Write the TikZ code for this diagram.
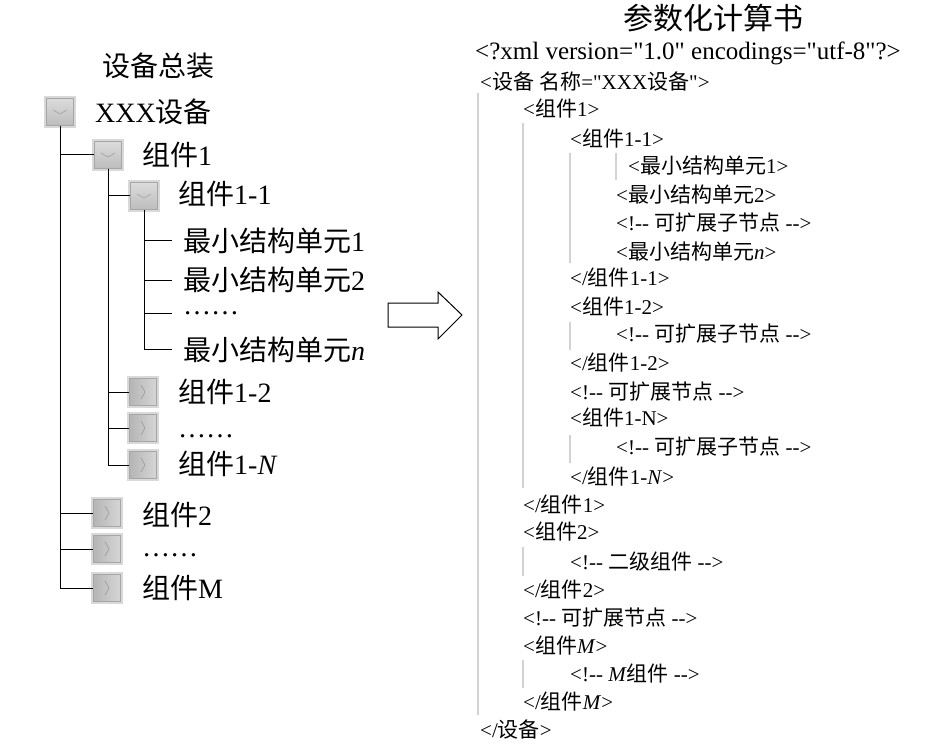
\documentclass[tikz,border=0pt]{standalone}
\usepackage{fontspec}
\setmainfont{Liberation Serif}
\newfontfamily\cjkfont{Noto Sans CJK SC}
\newcommand\zhtext[1]{{\cjkfont #1}}
\newcommand\dhy{-\kern0pt-}
\newcommand\qd{\textquotedbl}
\begin{document}
\begin{tikzpicture}[x=1pt,y=-1pt,
  tbox/.style={minimum size=27pt, inner sep=0pt, draw=gray!70, line width=0.8pt,
    preaction={draw=gray!30, line width=4.5pt}},
  openbox/.style={tbox, top color=gray!28, bottom color=gray!52,
    path picture={\draw[gray!70, line width=0.7pt, shift={(path picture bounding box.center)}] (-7,-2) -- (0,2) -- (7,-2);}},
  shutbox/.style={tbox, left color=gray!58, right color=gray!32,
    path picture={\draw[gray!75, line width=0.7pt, shift={(path picture bounding box.center)}] (-2,-7) -- (2,0) -- (-2,7);}},
  ttext/.style={anchor=west, inner sep=0pt, font=\fontsize{28}{32}\selectfont, text height=22pt, text depth=1.5pt},
  ttitle/.style={anchor=center, inner sep=0pt, font=\fontsize{28}{32}\selectfont, text height=22pt, text depth=1.5pt},
  xml/.style={anchor=west, inner sep=0pt, font=\fontsize{21}{24}\selectfont, text height=16.5pt, text depth=1pt},
  xmlhead/.style={anchor=west, inner sep=0pt, font=\fontsize{25}{28}\selectfont, text height=18pt, text depth=5pt},
  treeline/.style={line width=1pt, black},
  guide/.style={line width=1.5pt, gray!35},
  bigarrow/.style={line width=1pt, black, fill=white}
]
\useasboundingbox (0,0) rectangle (945,746);

% ---------- left tree ----------
\node[ttitle] (ltitle) at (158,66) {\zhtext{设备总装}};

\node[openbox] (b0) at (60,112) {};
\node[ttext] (t0) at (95,112) {XXX\zhtext{设备}};

\node[openbox] (b1) at (108,155) {};
\node[ttext] (t1) at (142,155) {\zhtext{组件}1};

\node[openbox] (b2) at (144,196) {};
\node[ttext] (t2) at (178,194) {\zhtext{组件}1-1};

\node[ttext] (l1) at (183,241) {\zhtext{最小结构单元}1};
\node[ttext] (l2) at (183,280) {\zhtext{最小结构单元}2};
\node[ttext] (l3) at (183,304) {……};
\node[ttext] (l4) at (183,350) {\zhtext{最小结构单元}\textit{n}};
\coordinate (d1) at (172,241);
\coordinate (d2) at (172,280);
\coordinate (d3) at (172,313);
\coordinate (d4) at (172,349);

\node[shutbox] (b4) at (143,392) {};
\node[ttext] (t4) at (178,392) {\zhtext{组件}1-2};
\node[shutbox] (b5) at (143,428) {};
\node[ttext] (t5) at (178,427) {……};
\node[shutbox] (b6) at (143,465) {};
\node[ttext] (t6) at (178,464) {\zhtext{组件}1-\textit{N}};

\node[shutbox] (b7) at (107,513) {};
\node[ttext] (t7) at (142,515) {\zhtext{组件}2};
\node[shutbox] (b8) at (107,549) {};
\node[ttext] (t8) at (142,546) {……};
\node[shutbox] (b9) at (107,588) {};
\node[ttext] (t9) at (142,588) {\zhtext{组件}M};

\draw[treeline] (b0.south) |- (b1.west);
\draw[treeline] (b0.south) |- (b7.west);
\draw[treeline] (b0.south) |- (b8.west);
\draw[treeline] (b0.south) |- (b9.west);
\draw[treeline] (b1.south) |- (b2.west);
\draw[treeline] (b1.south) |- (b4.west);
\draw[treeline] (b1.south) |- (b5.west);
\draw[treeline] (b1.south) |- (b6.west);
\draw[treeline] (b2.south) |- (d1);
\draw[treeline] (b2.south) |- (d2);
\draw[treeline] (b2.south) |- (d3);
\draw[treeline] (b2.south) |- (d4);

% ---------- arrow ----------
\draw[bigarrow] (388,303) -- (438,303) -- (438,292) -- (462,315) -- (438,339) -- (438,327) -- (388,327) -- cycle;

% ---------- right XML ----------
\node[anchor=center, inner sep=0pt, font=\fontsize{30}{34}\selectfont] (rtitle) at (713,18) {\zhtext{参数化计算书}};
\node[xmlhead] (xh) at (475,53) {<?xml version=\qd1.0\qd{} encodings=\qd utf-8\qd?>};

\draw[guide] (478,93) -- (478,715);
\draw[guide] (523,123) -- (523,488);
\draw[guide] (570,153) -- (570,263);
\draw[guide] (616,153) -- (616,180);
\draw[guide] (570,322) -- (570,350);
\draw[guide] (570,435) -- (570,463);
\draw[guide] (523,547) -- (523,576);
\draw[guide] (523,660) -- (523,688);

\node[xml] (x0) at (480,82) {<\zhtext{设备} \zhtext{名称}=\qd XXX\zhtext{设备}\qd>};
\node[xml] (x1) at (523,109) {<\zhtext{组件}1>};
\node[xml] (x2) at (570,139) {<\zhtext{组件}1-1>};
\node[xml] (x3) at (628,166) {<\zhtext{最小结构单元}1>};
\node[xml] (x4) at (616,195) {<\zhtext{最小结构单元}2>};
\node[xml] (x5) at (616,223) {<!\dhy{} \zhtext{可扩展子节点} \dhy>};
\node[xml] (x6) at (616,252) {<\zhtext{最小结构单元}\textit{n}>};
\node[xml] (x7) at (570,278) {</\zhtext{组件}1-1>};
\node[xml] (x8) at (570,307) {<\zhtext{组件}1-2>};
\node[xml] (x9) at (616,334) {<!\dhy{} \zhtext{可扩展子节点} \dhy>};
\node[xml] (x10) at (570,363) {</\zhtext{组件}1-2>};
\node[xml] (x11) at (570,392) {<!\dhy{} \zhtext{可扩展节点} \dhy>};
\node[xml] (x12) at (570,418) {<\zhtext{组件}1-N>};
\node[xml] (x13) at (616,447) {<!\dhy{} \zhtext{可扩展子节点} \dhy>};
\node[xml] (x14) at (570,477) {</\zhtext{组件}1-\textit{N}>};
\node[xml] (x15) at (523,505) {</\zhtext{组件}1>};
\node[xml] (x16) at (523,532) {<\zhtext{组件}2>};
\node[xml] (x17) at (570,562) {<!\dhy{} \zhtext{二级组件} \dhy>};
\node[xml] (x18) at (523,590) {</\zhtext{组件}2>};
\node[xml] (x19) at (523,618) {<!\dhy{} \zhtext{可扩展节点} \dhy>};
\node[xml] (x20) at (523,646) {<\zhtext{组件}\textit{M}>};
\node[xml] (x21) at (570,674) {<!\dhy{} \textit{M}\zhtext{组件} \dhy>};
\node[xml] (x22) at (523,702) {</\zhtext{组件}\textit{M}>};
\node[xml] (x23) at (480,730) {</\zhtext{设备}>};
\end{tikzpicture}
\end{document}
